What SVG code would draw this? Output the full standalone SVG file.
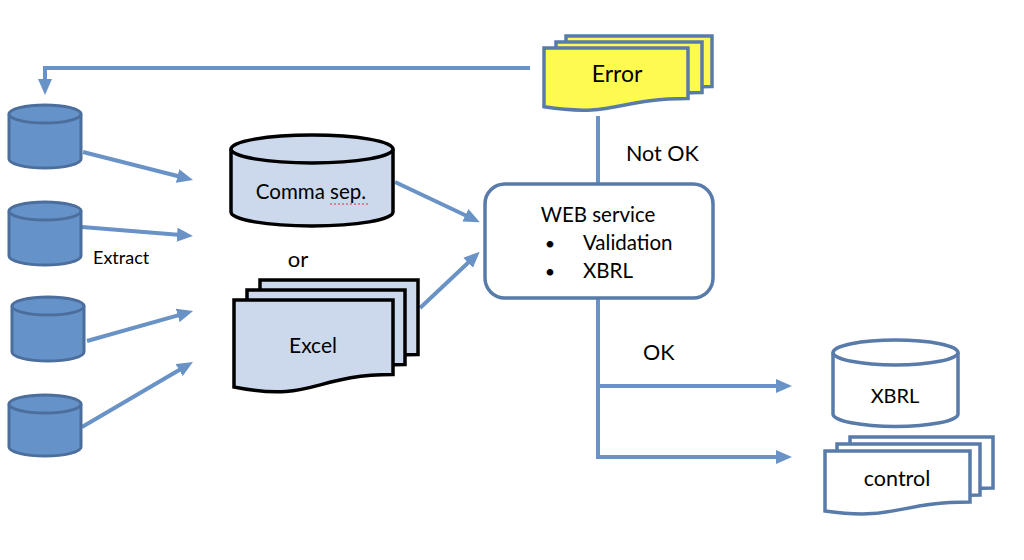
<svg xmlns="http://www.w3.org/2000/svg" width="1024" height="560" viewBox="0 0 1024 560">
<style>
text{font-family:Lato,"Liberation Sans",sans-serif;fill:#000}
.conn{stroke:#6992C6;stroke-width:4;fill:none}
.db{fill:#6592C8;stroke:#4B6E9C;stroke-width:3}
.blk{stroke:#000;stroke-width:3.5;fill:#CCD9EC}
.err{fill:#FFFA50;stroke:#587BAA;stroke-width:3.5}
.wht{fill:#fff;stroke:#587BAA;stroke-width:3.5}
</style>
<defs>
<marker id="ah" markerUnits="userSpaceOnUse" markerWidth="16" markerHeight="14" refX="4" refY="7" orient="auto">
<path d="M0,0 L16,7 L0,14 Z" fill="#6992C6"/>
</marker>
</defs>
<rect width="1024" height="560" fill="#fff"/>
<g id="connectors">
<polyline class="conn" points="530,68 45,68 45,83" marker-end="url(#ah)"/>
<line class="conn" x1="598" y1="116" x2="598" y2="184"/>
<polyline class="conn" points="598,298 598,457 780,457" marker-end="url(#ah)"/>
<line class="conn" x1="598" y1="386" x2="780" y2="386" marker-end="url(#ah)"/>
<line class="conn" x1="83" y1="152" x2="181.4" y2="177" marker-end="url(#ah)"/>
<line class="conn" x1="82" y1="227" x2="181" y2="235" marker-end="url(#ah)"/>
<line class="conn" x1="87" y1="341" x2="181.5" y2="314.3" marker-end="url(#ah)"/>
<line class="conn" x1="82" y1="427" x2="182.6" y2="368" marker-end="url(#ah)"/>
<line class="conn" x1="395" y1="182" x2="469" y2="217" marker-end="url(#ah)"/>
<line class="conn" x1="420" y1="308" x2="471" y2="260" marker-end="url(#ah)"/>
</g>
<g id="error">
<path class="err" d="M566,36 H712 V86.5 C639,86.5 639,105.7 566,95 Z"/>
<path class="err" d="M556,42 H702 V92.5 C629,92.5 629,111.7 556,101 Z"/>
<path class="err" d="M544,48 H688 V98.5 C616,98.5 616,117.7 544,106.8 Z"/>
<text x="617" y="82" font-size="23" text-anchor="middle">Error</text>
</g>
<g id="db1">
<path class="db" d="M9,114 V159 A36,9 0 0 0 81,159 V114"/>
<ellipse class="db" cx="45" cy="114" rx="36" ry="9"/>
</g>
<g id="db2">
<path class="db" d="M9,211 V256 A36,9 0 0 0 81,256 V211"/>
<ellipse class="db" cx="45" cy="211" rx="36" ry="9"/>
</g>
<g id="db3">
<path class="db" d="M12,306 V352 A36,9 0 0 0 84,352 V306"/>
<ellipse class="db" cx="48" cy="306" rx="36" ry="9"/>
</g>
<g id="db4">
<path class="db" d="M9,404 V447 A36,9 0 0 0 81,447 V404"/>
<ellipse class="db" cx="45" cy="404" rx="36" ry="9"/>
</g>
<text x="93" y="264" font-size="18">Extract</text>
<g id="comma">
<path class="blk" d="M231,149 V212 A81,14 0 0 0 393,212 V149"/>
<ellipse class="blk" cx="312" cy="149" rx="81" ry="14"/>
<text x="311" y="199" font-size="20.5" text-anchor="middle">Comma sep.</text>
<path d="M330,204 H368" stroke="#E03030" stroke-width="1.2" stroke-dasharray="2,2"/>
</g>
<text x="298" y="267" font-size="22" text-anchor="middle">or</text>
<g id="excel">
<path class="blk" d="M260,280 H418 V354.6 C339,354.6 339,383 260,367 Z"/>
<path class="blk" d="M247,290 H405 V364.6 C326,364.6 326,393 247,377 Z"/>
<path class="blk" d="M234,300 H393 V374.6 C313,374.6 313,403 234,387 Z"/>
<text x="313" y="353" font-size="21" text-anchor="middle">Excel</text>
</g>
<g id="web">
<rect class="wht" x="485" y="184" width="228" height="114" rx="20"/>
<text x="598" y="222" font-size="20.5" text-anchor="middle">WEB service</text>
<text x="550" y="250" font-size="18" text-anchor="middle">•</text>
<text x="583" y="250" font-size="20.5">Validation</text>
<text x="550" y="278" font-size="18" text-anchor="middle">•</text>
<text x="583" y="278" font-size="20.5">XBRL</text>
</g>
<text x="626" y="161" font-size="21.5">Not OK</text>
<text x="643" y="360" font-size="21.5">OK</text>
<g id="xbrl">
<path class="wht" d="M833,352.5 V414 A62.5,12.5 0 0 0 958,414 V352.5"/>
<ellipse class="wht" cx="895.5" cy="352.5" rx="62.5" ry="12.5"/>
<text x="895" y="403" font-size="20" text-anchor="middle">XBRL</text>
</g>
<g id="control">
<path class="wht" d="M850,437 H993 V488 C921,488 921,507 850,497 Z"/>
<path class="wht" d="M837,444 H980 V495 C908,495 908,514 837,504 Z"/>
<path class="wht" d="M825,451 H970 V502 C897,502 897,521 825,511 Z"/>
<text x="897" y="486" font-size="21.5" text-anchor="middle">control</text>
</g>
</svg>
